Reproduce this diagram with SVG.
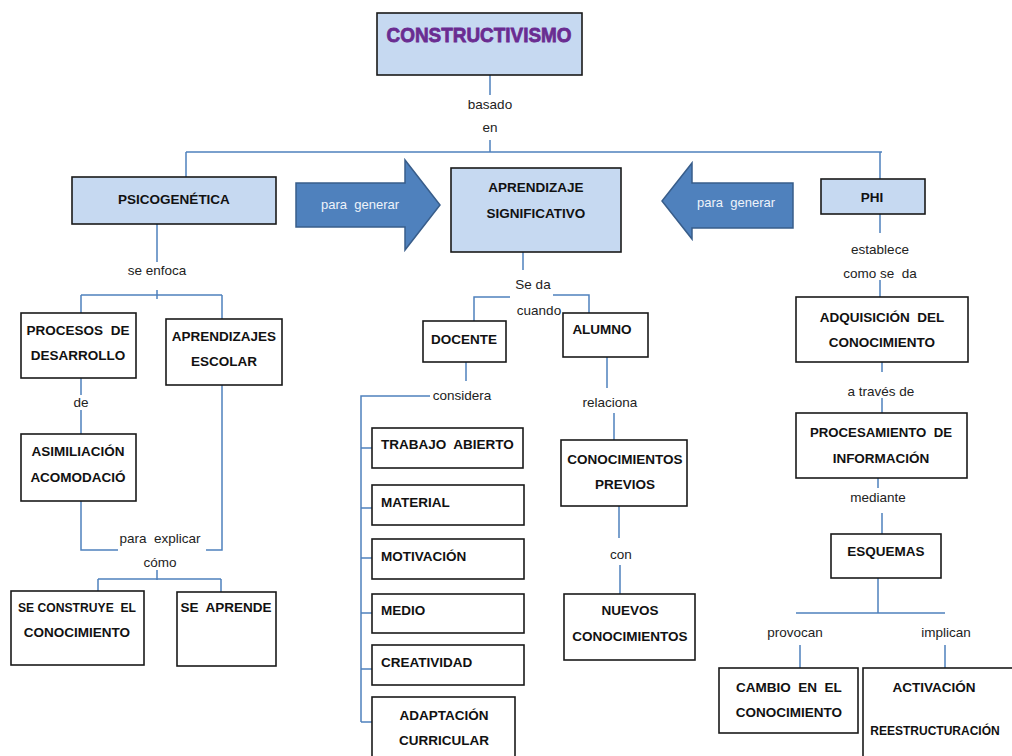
<svg xmlns="http://www.w3.org/2000/svg" width="1012" height="756" viewBox="0 0 1012 756">
<style>
text{white-space:pre}
.bx{fill:#fff;stroke:#1a1a1a;stroke-width:1.6}
.bl{fill:#c6d9f1;stroke:#1a1a1a;stroke-width:1.6}
.t{font-family:"Liberation Sans",Arial,sans-serif;font-weight:bold;font-size:13.5px;fill:#111;text-anchor:middle}
.tl{font-family:"Liberation Sans",Arial,sans-serif;font-weight:bold;font-size:13.5px;fill:#111}
.lb{font-family:"Liberation Sans",Arial,sans-serif;font-size:13.5px;fill:#222;text-anchor:middle}
.c{fill:none;stroke:#4f81bd;stroke-width:1.5}
.ar{fill:#4f81bd;stroke:#385d8a;stroke-width:1.5}
.at{font-family:"Liberation Sans",Arial,sans-serif;font-size:13px;fill:#eef3fa;text-anchor:middle}
</style>
<rect width="1012" height="756" fill="#fff"/>
<g id="connectors">
<path class="c" d="M490 75V95M490 140V152M186 152H882M186 152V177M880 152V179"/>
<path class="c" d="M157 224V262M81 295H222M157 290V299M81 295V313M222 295V319"/>
<path class="c" d="M81 378V395M81 410V434M81 501V550H118M222 385V550H206"/>
<path class="c" d="M98 579H221M157 570V580M98 579V592M221 579V592"/>
<path class="c" d="M523 252V270M474 321V297H510M553 295H589V313"/>
<path class="c" d="M466 362V381M430 396H361V722M361 448H372M361 508H372M361 558H372M361 613H372M361 669H372M361 722H372"/>
<path class="c" d="M607 357V388M614 413V440M619 506V538M620 565V594"/>
<path class="c" d="M880 214V233M880 280V297M882 362V372M882 398V413M878 478V488M882 513V534"/>
<path class="c" d="M878 578V613M796 613H945M800 645V668M945 645V668"/>
</g>
<g id="constructivismo">
<rect class="bl" x="377" y="13" width="205" height="62"/>
<text x="479" y="42" font-family="Liberation Sans,Arial,sans-serif" font-weight="bold" font-size="21" fill="#6a2c91" text-anchor="middle" stroke="#6a2c91" stroke-width="0.8" textLength="185" lengthAdjust="spacingAndGlyphs">CONSTRUCTIVISMO</text>
</g>
<text class="lb" x="490" y="109">basado</text>
<text class="lb" x="490" y="132">en</text>
<g id="psicogenetica">
<rect class="bl" x="72" y="177" width="204" height="47"/>
<text class="t" x="174" y="204">PSICOGENÉTICA</text>
</g>
<g id="arrow-left-to-right">
<path class="ar" d="M296 183H405V160L440 205L405 250V227H296Z"/>
<text class="at" x="360" y="209">para  generar</text>
</g>
<g id="aprendizaje">
<rect class="bl" x="451" y="168" width="170" height="84"/>
<text class="t" x="536" y="192">APRENDIZAJE</text>
<text class="t" x="536" y="218">SIGNIFICATIVO</text>
</g>
<g id="arrow-right-to-left">
<path class="ar" d="M793 183H692V163L662 201L692 239V228H793Z"/>
<text class="at" x="736" y="207">para  generar</text>
</g>
<g id="phi">
<rect class="bl" x="821" y="179" width="104" height="35"/>
<text class="t" x="872" y="202">PHI</text>
</g>
<text class="lb" x="157" y="275">se enfoca</text>
<g id="procesos">
<rect class="bx" x="21" y="313" width="115" height="65"/>
<text class="t" x="78" y="335">PROCESOS  DE</text>
<text class="t" x="78" y="360">DESARROLLO</text>
</g>
<g id="aprendizajes-escolar">
<rect class="bx" x="166" y="319" width="116" height="66"/>
<text class="t" x="224" y="341">APRENDIZAJES</text>
<text class="t" x="224" y="366">ESCOLAR</text>
</g>
<text class="lb" x="81" y="407">de</text>
<g id="asimilacion">
<rect class="bx" x="21" y="434" width="115" height="67"/>
<text class="t" x="78" y="456">ASIMILIACIÓN</text>
<text class="t" x="78" y="482">ACOMODACIÓ</text>
</g>
<text class="lb" x="160" y="543">para  explicar</text>
<text class="lb" x="160" y="567">cómo</text>
<g id="se-construye">
<rect class="bx" x="11" y="591" width="133" height="74"/>
<text class="t" x="77" y="612" textLength="118" lengthAdjust="spacingAndGlyphs">SE CONSTRUYE  EL</text>
<text class="t" x="77" y="637">CONOCIMIENTO</text>
</g>
<g id="se-aprende">
<rect class="bx" x="177" y="592" width="99" height="74"/>
<text class="t" x="226" y="612">SE  APRENDE</text>
</g>
<text class="lb" x="533" y="289">Se da</text>
<text class="lb" x="539" y="315">cuando</text>
<g id="docente">
<rect class="bx" x="423" y="321" width="83" height="41"/>
<text class="t" x="464" y="344">DOCENTE</text>
</g>
<g id="alumno">
<rect class="bx" x="563" y="313" width="85" height="44"/>
<text class="t" x="602" y="334">ALUMNO</text>
</g>
<text class="lb" x="462" y="400">considera</text>
<g id="trabajo">
<rect class="bx" x="372" y="428" width="151" height="40"/>
<text class="tl" x="381" y="449">TRABAJO  ABIERTO</text>
</g>
<g id="material">
<rect class="bx" x="372" y="485" width="152" height="40"/>
<text class="tl" x="381" y="507">MATERIAL</text>
</g>
<g id="motivacion">
<rect class="bx" x="372" y="539" width="152" height="40"/>
<text class="tl" x="381" y="561">MOTIVACIÓN</text>
</g>
<g id="medio">
<rect class="bx" x="372" y="594" width="152" height="39"/>
<text class="tl" x="381" y="615">MEDIO</text>
</g>
<g id="creatividad">
<rect class="bx" x="372" y="645" width="152" height="40"/>
<text class="tl" x="381" y="667">CREATIVIDAD</text>
</g>
<g id="adaptacion">
<rect class="bx" x="372" y="697" width="143" height="70"/>
<text class="t" x="444" y="720">ADAPTACIÓN</text>
<text class="t" x="444" y="745">CURRICULAR</text>
</g>
<text class="lb" x="610" y="407">relaciona</text>
<g id="conocimientos-previos">
<rect class="bx" x="561" y="440" width="126" height="66"/>
<text class="t" x="625" y="464">CONOCIMIENTOS</text>
<text class="t" x="625" y="489">PREVIOS</text>
</g>
<text class="lb" x="621" y="559">con</text>
<g id="nuevos">
<rect class="bx" x="564" y="594" width="131" height="66"/>
<text class="t" x="630" y="615">NUEVOS</text>
<text class="t" x="630" y="641">CONOCIMIENTOS</text>
</g>
<text class="lb" x="880" y="254">establece</text>
<text class="lb" x="880" y="278">como se  da</text>
<g id="adquisicion">
<rect class="bx" x="796" y="297" width="172" height="65"/>
<text class="t" x="882" y="322">ADQUISICIÓN  DEL</text>
<text class="t" x="882" y="347">CONOCIMIENTO</text>
</g>
<text class="lb" x="881" y="396">a través de</text>
<g id="procesamiento">
<rect class="bx" x="796" y="413" width="171" height="65"/>
<text class="t" x="881" y="437" textLength="142" lengthAdjust="spacingAndGlyphs">PROCESAMIENTO  DE</text>
<text class="t" x="881" y="463">INFORMACIÓN</text>
</g>
<text class="lb" x="878" y="502">mediante</text>
<g id="esquemas">
<rect class="bx" x="831" y="534" width="110" height="44"/>
<text class="t" x="886" y="556">ESQUEMAS</text>
</g>
<text class="lb" x="795" y="637">provocan</text>
<text class="lb" x="946" y="637">implican</text>
<g id="cambio">
<rect class="bx" x="719" y="668" width="139" height="65"/>
<text class="t" x="789" y="692">CAMBIO  EN  EL</text>
<text class="t" x="789" y="717">CONOCIMIENTO</text>
</g>
<g id="activacion">
<rect class="bx" x="863" y="668" width="160" height="100"/>
<text class="t" x="934" y="692">ACTIVACIÓN</text>
<text class="t" x="935" y="735" style="font-size:12px">REESTRUCTURACIÓN</text>
</g>
</svg>
